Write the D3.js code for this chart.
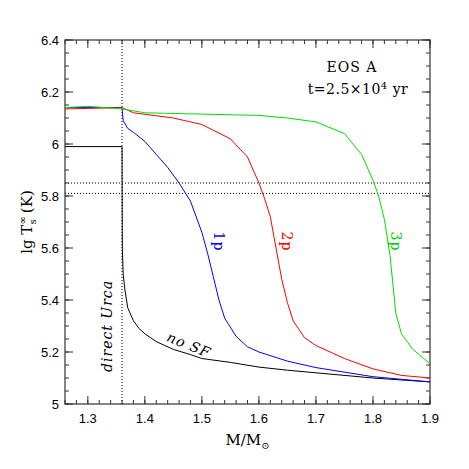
<!DOCTYPE html><html><head><script src="https://cdn.jsdelivr.net/npm/d3@7"></script>
<style>body{margin:0;background:#fff}</style></head><body><svg id="c" width="469" height="469"></svg><script>
const xTicks=[1.3,1.4,1.5,1.6,1.7,1.8,1.9];
const yTicks=[5,5.2,5.4,5.6,5.8,6,6.2,6.4];
const yTickLabels=["5","5.2","5.4","5.6","5.8","6","6.2","6.4"];
const noSF=[[1.26,5.99],[1.36,5.99],[1.3605,5.6],[1.362,5.5],[1.365,5.44],[1.37,5.37],[1.38,5.32],[1.39,5.29],[1.40,5.27],[1.42,5.24],[1.45,5.21],[1.48,5.19],[1.50,5.175],[1.55,5.16],[1.6,5.142],[1.65,5.13],[1.7,5.12],[1.8,5.10],[1.9,5.085]];
const p1=[[1.26,6.14],[1.36,6.14],[1.362,6.09],[1.37,6.06],[1.38,6.045],[1.40,6.01],[1.42,5.96],[1.44,5.91],[1.46,5.85],[1.48,5.78],[1.50,5.66],[1.51,5.58],[1.52,5.49],[1.53,5.40],[1.54,5.33],[1.56,5.26],[1.58,5.22],[1.60,5.2],[1.65,5.165],[1.7,5.14],[1.8,5.105],[1.9,5.085]];
const p2=[[1.26,6.135],[1.36,6.14],[1.38,6.12],[1.45,6.10],[1.50,6.075],[1.55,6.02],[1.58,5.95],[1.60,5.85],[1.61,5.79],[1.62,5.72],[1.63,5.6],[1.64,5.48],[1.65,5.39],[1.66,5.32],[1.68,5.255],[1.7,5.225],[1.75,5.175],[1.8,5.135],[1.85,5.11],[1.9,5.10]];
const p3=[[1.26,6.14],[1.3,6.145],[1.36,6.135],[1.4,6.12],[1.5,6.115],[1.6,6.11],[1.65,6.10],[1.7,6.085],[1.75,6.04],[1.78,5.96],[1.80,5.86],[1.81,5.80],[1.82,5.71],[1.83,5.57],[1.84,5.35],[1.85,5.27],[1.87,5.21],[1.9,5.155]];
const hLines=[5.85,5.81], urcaM=1.36;
const svg=d3.select("#c");
const L=65,R=430,T=40,B=404;
const x=d3.scaleLinear().domain([1.26,1.9]).range([L,R]);
const y=d3.scaleLinear().domain([5,6.4]).range([B,T]);
const g=svg.append("g");
const xMin=d3.range(1.26,1.9001,0.02), yMin=d3.range(5,6.4001,0.05);
function ticks(vals,len,axis){vals.forEach(v=>{
 if(axis=="x"){const X=x(v);g.append("line").attr("x1",X).attr("x2",X).attr("y1",B).attr("y2",B-len);g.append("line").attr("x1",X).attr("x2",X).attr("y1",T).attr("y2",T+len);}
 else{const Y=y(v);g.append("line").attr("y1",Y).attr("y2",Y).attr("x1",L).attr("x2",L+len);g.append("line").attr("y1",Y).attr("y2",Y).attr("x1",R).attr("x2",R-len);}
});}
ticks(xMin,4,"x");ticks(xTicks,8,"x");ticks(yMin,4,"y");ticks(yTicks,8,"y");
g.selectAll("line").attr("stroke","#333").attr("stroke-width",1);
svg.append("rect").attr("x",L).attr("y",T).attr("width",R-L).attr("height",B-T).attr("fill","none").attr("stroke","#333").attr("stroke-width",1.2);
xTicks.forEach(v=>svg.append("text").attr("x",x(v)).attr("y",B+19).attr("text-anchor","middle").attr("font-family","Liberation Sans").attr("font-size",13).text(v));
yTicks.forEach((v,i)=>svg.append("text").attr("x",L-6).attr("y",y(v)+5).attr("text-anchor","end").attr("font-family","Liberation Sans").attr("font-size",13).text(yTickLabels[i]));
hLines.forEach(v=>svg.append("line").attr("x1",L).attr("x2",R).attr("y1",y(v)).attr("y2",y(v)).attr("stroke","#000").attr("stroke-dasharray","1,2"));
svg.append("line").attr("x1",x(urcaM)).attr("x2",x(urcaM)).attr("y1",T).attr("y2",B).attr("stroke","#000").attr("stroke-dasharray","1,2");
const line=d3.line().x(d=>x(d[0])).y(d=>y(d[1]));
[[noSF,"#000"],[p1,"#0000ff"],[p2,"#ff0000"],[p3,"#00e000"]].forEach(([d,c])=>svg.append("path").attr("d",line(d)).attr("fill","none").attr("stroke",c).attr("stroke-width",1));
function rt(t,xv,yv,ang,col,it){svg.append("text").attr("transform",`translate(${x(xv)},${y(yv)}) rotate(${ang})`).attr("text-anchor","middle").attr("font-family","DejaVu Serif").attr("font-size",14).attr("letter-spacing",1).attr("font-style",it?"italic":"normal").attr("fill",col).text(t);}
rt("1p",1.522,5.625,90,"#0000ff");rt("2p",1.641,5.625,90,"#ff0000");rt("3p",1.831,5.625,90,"#00d000");
rt("direct Urca",1.343,5.3,-90,"#000",true);rt("no SF",1.474,5.21,22,"#000",true);
svg.append("text").attr("x",352).attr("y",72).attr("text-anchor","middle").attr("font-family","DejaVu Serif").attr("letter-spacing",1).attr("font-size",14).text("EOS A");
const t=svg.append("text").attr("x",358).attr("y",94).attr("text-anchor","middle").attr("font-family","DejaVu Serif").attr("letter-spacing",0.5).attr("font-size",14);
t.append("tspan").text("t=2.5×10");t.append("tspan").attr("dy",-5).attr("font-size",10).text("4");t.append("tspan").attr("dy",5).text(" yr");
const yl=svg.append("text").attr("transform",`translate(32,${(T+B)/2}) rotate(-90)`).attr("text-anchor","middle").attr("font-family","DejaVu Serif").attr("font-size",15);
yl.append("tspan").text("lg T");yl.append("tspan").attr("dy",-6).attr("font-size",10).text("∞");yl.append("tspan").attr("dy",10).attr("dx",-8).attr("font-size",10).text("s");yl.append("tspan").attr("dy",-4).attr("dx",6).text("(K)");
const xl=svg.append("text").attr("x",(L+R)/2).attr("y",445).attr("text-anchor","middle").attr("font-family","DejaVu Serif").attr("font-size",15);
xl.append("tspan").text("M/M");xl.append("tspan").attr("dy",4).attr("font-size",10).text("⊙");
</script></body></html>
